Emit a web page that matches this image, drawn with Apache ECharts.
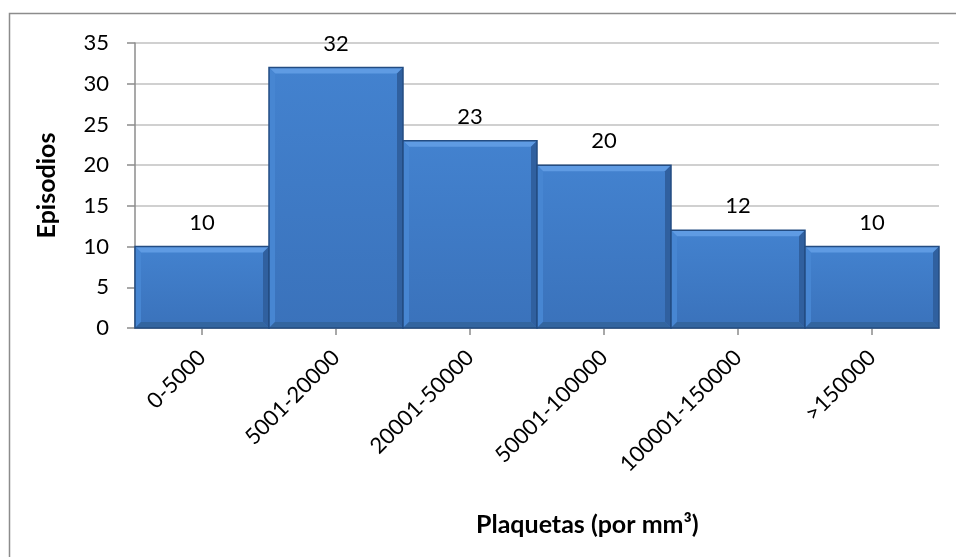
<!DOCTYPE html>
<html>
<head>
<meta charset="utf-8">
<script src="https://cdn.jsdelivr.net/npm/echarts@6/dist/echarts.min.js"></script>
<style>
  html, body { margin: 0; padding: 0; background: #ffffff; }
  #chart { width: 956px; height: 557px; }
</style>
</head>
<body>
<div id="chart"></div>
<script>
// Platelet-count bins and number of episodes in each
const categories = ['0-5000', '5001-20000', '20001-50000', '50001-100000', '100001-150000', '>150000'];
const episodios = [10, 32, 23, 20, 12, 10];
const yTicks = [0, 5, 10, 15, 20, 25, 30, 35];

const FONT = 'Lato, "Noto Sans", sans-serif';

const chart = echarts.init(document.getElementById('chart'), null, { renderer: 'canvas' });

// Bevelled histogram column: a face plus four edge strips and a value label
function renderBevelBar(params, api) {
  const idx = api.value(0);
  const val = api.value(1);
  const top = api.coord([idx, val]);
  const base = api.coord([idx, 0]);
  const w = api.size([1, 0])[0];
  const x0 = top[0] - w / 2;
  const x1 = top[0] + w / 2;
  const y0 = top[1];
  const y1 = base[1];
  const b = 6;
  return {
    type: 'group',
    children: [
      {
        type: 'rect',
        shape: { x: x0, y: y0, width: x1 - x0, height: y1 - y0 },
        style: {
          fill: new echarts.graphic.LinearGradient(0, 0, 0, 1, [
            { offset: 0, color: '#4382cf' },
            { offset: 1, color: '#3a72bb' }
          ])
        }
      },
      { // top edge
        type: 'polygon',
        shape: { points: [[x0, y0], [x1, y0], [x1 - b, y0 + b], [x0 + b, y0 + b]] },
        style: { fill: '#5f9be3' }
      },
      { // left edge
        type: 'polygon',
        shape: { points: [[x0, y0], [x0 + b, y0 + b], [x0 + b, y1 - b], [x0, y1]] },
        style: { fill: '#4786d2' }
      },
      { // right edge
        type: 'polygon',
        shape: { points: [[x1, y0], [x1, y1], [x1 - b, y1 - b], [x1 - b, y0 + b]] },
        style: { fill: '#30609f' }
      },
      { // bottom edge
        type: 'polygon',
        shape: { points: [[x0, y1], [x1, y1], [x1 - b, y1 - b], [x0 + b, y1 - b]] },
        style: { fill: '#33659f' }
      },
      {
        type: 'rect',
        shape: { x: x0, y: y0, width: x1 - x0, height: y1 - y0 },
        style: { fill: null, stroke: '#234c82', lineWidth: 1.5 }
      },
      {
        type: 'text',
        style: {
          text: String(val),
          x: top[0],
          y: y0 - 24,
          align: 'center',
          verticalAlign: 'middle',
          fill: '#000000',
          font: '22px ' + FONT
        }
      }
    ]
  };
}

chart.setOption({
  backgroundColor: '#ffffff',
  animation: false,
  graphic: [
    {
      type: 'rect',
      shape: { x: 9.5, y: 13.5, width: 1000, height: 600 },
      style: { fill: null, stroke: '#8c8c8c', lineWidth: 1.5 },
      silent: true
    },
    {
      type: 'text',
      left: 476,
      top: 512,
      style: {
        text: 'Plaquetas (por mm³)',
        fill: '#000000',
        font: 'bold 25px ' + FONT
      },
      silent: true
    }
  ],
  grid: { left: 135, right: 17, top: 43, bottom: 229 },
  xAxis: {
    type: 'category',
    data: categories,
    boundaryGap: true,
    axisLine: { lineStyle: { color: '#8c8c8c', width: 1.5 } },
    axisTick: { show: true, alignWithLabel: true, length: 7, lineStyle: { color: '#8c8c8c', width: 1.5 } },
    axisLabel: {
      rotate: 45,
      margin: 26,
      interval: 0,
      fontFamily: FONT,
      fontSize: 22,
      color: '#000'
    }
  },
  yAxis: {
    type: 'value',
    min: yTicks[0],
    max: yTicks[yTicks.length - 1],
    interval: 5,
    name: 'Episodios',
    nameLocation: 'middle',
    nameGap: 76,
    nameRotate: 90,
    nameTextStyle: { fontFamily: FONT, fontSize: 25, fontWeight: 'bold', color: '#000' },
    axisLine: { show: true, lineStyle: { color: '#8c8c8c', width: 1.5 } },
    axisTick: { show: true, length: 8, lineStyle: { color: '#8c8c8c', width: 1.5 } },
    axisLabel: { margin: 26, fontFamily: FONT, fontSize: 22, color: '#000' },
    splitLine: { show: true, lineStyle: { color: '#c0c0c0', width: 1.5 } }
  },
  series: [
    {
      type: 'custom',
      renderItem: renderBevelBar,
      encode: { x: 0, y: 1 },
      data: episodios.map((v, i) => [i, v]),
      clip: false
    }
  ]
});
</script>
</body>
</html>
